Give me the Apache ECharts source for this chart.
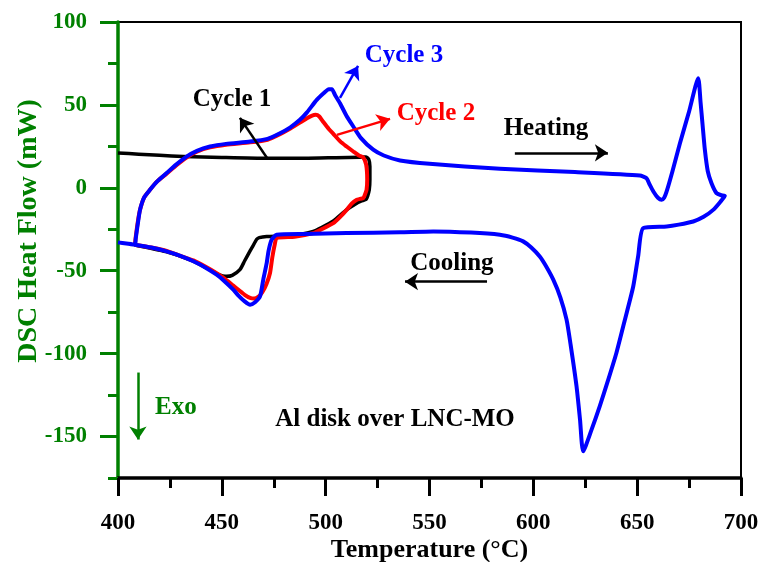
<!DOCTYPE html>
<html>
<head>
<meta charset="utf-8">
<script src="https://cdn.jsdelivr.net/npm/echarts@6/dist/echarts.min.js"></script>
<style>
html,body{margin:0;padding:0;background:#fff;}
#chart{width:763px;height:562px;}
</style>
</head>
<body>
<div id="chart"></div>
<script>
// ---- Data ----
const tempTicks = [400, 450, 500, 550, 600, 650, 700];
const tempMinorTicks = [425, 475, 525, 575, 625, 675];
const flowTicks = [-150, -100, -50, 0, 50, 100];
const flowMinorTicks = [-175, -125, -75, -25, 25, 75];

const cycle1T = [400, 410, 420, 431.5, 450, 471.6, 490, 505, 516.5, 519.5, 520.8, 521.3, 521.3, 521, 520.2, 519.5, 517, 514, 510, 503.7, 498, 494, 488, 480, 471.6, 468, 466.8, 465, 463.6, 461, 458.7, 455, 452.3, 448, 444.3, 436, 423, 408];
const cycle1V = [21, 20.3, 19.6, 18.9, 18.3, 17.8, 17.8, 18.2, 18.5, 18.6, 17, 12.8, 5, -1.2, -5, -7, -8, -10, -13.3, -20, -24, -26.3, -28, -29, -29.3, -30, -31, -35, -38, -44, -49.4, -52.8, -53.4, -52, -49.4, -44, -38.5, -34.5];

const cycle2T = [408.2, 408.6, 409.6, 410.6, 412.5, 415.4, 419, 423.4, 428, 433, 438, 444.3, 452, 463.6, 472, 478, 483, 487.6, 491, 493.5, 495.2, 496.8, 499, 501.5, 503.7, 507, 510.1, 513.3, 516, 518.1, 519.5, 520, 519.7, 518.8, 518.1, 516.5, 515, 512.5, 510.1, 507, 503.7, 498, 494, 485, 476.4, 475.5, 474.3, 473.2, 471.5, 469.5, 467.5, 465.5, 463.6, 461, 458, 455.5, 451, 447.5, 442, 436.3, 430, 423.4, 416, 408.2];
const cycle2V = [-33.5, -29, -20, -13.3, -6, -1.2, 4, 8.5, 13.5, 18.3, 21.8, 24.4, 26, 27.4, 29, 32.4, 35.8, 39.3, 42, 43.6, 44, 43.2, 39.5, 35.5, 32.5, 28, 24.9, 21.9, 19.5, 18.3, 14, 5, -1.2, -4.5, -6.2, -6.7, -7.2, -9.5, -13.3, -17.5, -21.3, -25, -27.3, -29.5, -30.3, -34, -42, -51.4, -58, -63, -65.8, -66.8, -66.4, -64.5, -61.5, -59, -54.5, -51.5, -47.5, -43.8, -41, -38, -36, -34.3];

const cycle3T = [400, 404, 408.2, 408.5, 409.5, 410.6, 412.5, 415.4, 419, 423.4, 428, 433, 438, 444.3, 452, 463.6, 472, 478, 483, 487.6, 491, 495.7, 499, 501.5, 503, 504.5, 506.9, 510, 513.3, 517, 522.9, 528, 535.8, 550, 583.9, 620, 651.3, 654.5, 656, 657.8, 660, 661.8, 663, 664.2, 667, 670.6, 675, 679.4, 680.5, 681.5, 682.6, 684, 685.8, 688.2, 690.5, 692.2, 690, 686.6, 682, 677, 670, 664.2, 652.9, 650.5, 648.1, 644, 640, 636, 632, 628, 624, 622.5, 620.8, 618, 616, 613, 609.6, 606, 603.1, 599, 595.1, 590, 583.9, 570, 551.8, 535.8, 510, 490, 476.4, 474, 472.5, 471.6, 470, 468.4, 466, 463.6, 461, 458, 455.5, 451, 447.5, 442, 436.3, 430, 423.4, 416, 408.2];
const cycle3V = [-32.9, -33.6, -34.3, -31, -22, -13.3, -6, -1.2, 4, 8.9, 14, 18.8, 22.3, 24.9, 26.5, 27.9, 29.5, 32.9, 36.5, 41, 45.5, 53, 57, 59.5, 59.5, 56, 51, 43.5, 37, 30, 23, 19.5, 16.5, 14.5, 11.5, 9.5, 7.4, 5.8, 2, -2.2, -6, -7.2, -6, -2.2, 10, 26.9, 46, 66.1, 52, 38, 22.9, 10, 2.8, -3.2, -4.5, -4.8, -8.5, -13.3, -17.5, -20.3, -22.2, -23.3, -24.3, -41, -59.5, -80, -99.6, -116, -131.7, -146, -158.9, -140, -119.7, -95, -79.5, -66, -55.4, -47, -41.4, -36, -32.3, -30, -28.3, -27, -26.3, -26.8, -27.3, -27.8, -28.3, -31.3, -38, -45.4, -55, -65.5, -69, -70.5, -68.5, -65, -61.4, -56, -52.4, -48, -44.3, -41, -38.3, -36, -34.3];

// ---- Annotation layout (data coordinates) ----
const FONT = '"Liberation Serif", "Times New Roman", serif';
const GREEN = '#008000';
const notes = [
  { text: 'Cycle 1', at: [454.9, 53], color: '#000000' },
  { text: 'Cycle 2', at: [553.1, 44.5], color: '#ff0000' },
  { text: 'Cycle 3', at: [537.7, 79.5], color: '#0000ff' },
  { text: 'Heating', at: [606.1, 35.8], color: '#000000' },
  { text: 'Cooling', at: [560.8, -45.5], color: '#000000' },
  { text: 'Exo', at: [427.9, -132.3], color: GREEN },
  { text: 'Al disk over LNC-MO', at: [533.4, -140], color: '#000000' }
];
const arrows = [
  { from: [471.7, 18.1], to: [458.7, 42.2], color: '#000000' },
  { from: [505.4, 31.9], to: [531, 41.6], color: '#ff0000' },
  { from: [506.9, 54.2], to: [515.6, 73.5], color: '#0000ff' },
  { from: [591.1, 21.1], to: [635.9, 21.1], color: '#000000' },
  { from: [577.7, -56.6], to: [538.2, -56.6], color: '#000000' },
  { from: [409.6, -111.4], to: [409.6, -151.8], color: GREEN }
];

const zip = (a, b) => a.map((x, i) => [x, b[i]]);

const chart = echarts.init(document.getElementById('chart'), null, { renderer: 'canvas' });

const baseX = { type: 'value', min: 400, max: 700, position: 'bottom', splitLine: { show: false } };
const baseY = { type: 'value', min: -175, max: 100, position: 'left', splitLine: { show: false } };

const option = {
  animation: false,
  backgroundColor: '#ffffff',
  grid: { left: 118, right: 22, top: 22, bottom: 84, outerBoundsMode: 'none', containLabel: false,
    show: true, borderColor: '#000', borderWidth: 2, backgroundColor: 'transparent' },
  xAxis: [
    Object.assign({}, baseX, {
      name: 'Temperature (°C)', nameLocation: 'middle', nameGap: 59, nameMoveOverlap: false,
      nameTextStyle: { fontFamily: FONT, fontWeight: 'bold', fontSize: 26, color: '#000' },
      axisLine: { show: true, onZero: false, lineStyle: { color: '#000', width: 3.5 } },
      axisTick: { show: true, customValues: tempTicks, length: 18, lineStyle: { color: '#000', width: 3 } },
      axisLabel: { customValues: tempTicks, margin: 34, fontFamily: FONT, fontWeight: 'bold', fontSize: 23, color: '#000' }
    }),
    Object.assign({}, baseX, {
      axisLine: { show: false, onZero: false },
      axisTick: { show: true, customValues: tempMinorTicks, length: 10, lineStyle: { color: '#000', width: 3 } },
      axisLabel: { show: false }
    })
  ],
  yAxis: [
    Object.assign({}, baseY, {
      name: 'DSC Heat Flow (mW)', nameLocation: 'middle', nameGap: 75, nameRotate: 90, nameMoveOverlap: false,
      nameTextStyle: { fontFamily: FONT, fontWeight: 'bold', fontSize: 28, color: GREEN, padding: [0, 0, 0, 38] },
      axisLine: { show: true, onZero: false, lineStyle: { color: GREEN, width: 3.5 } },
      axisTick: { show: true, customValues: flowTicks, length: 18, lineStyle: { color: GREEN, width: 3 } },
      axisLabel: { customValues: flowTicks, margin: 31, fontFamily: FONT, fontWeight: 'bold', fontSize: 23, color: GREEN }
    }),
    Object.assign({}, baseY, {
      axisLine: { show: false, onZero: false },
      axisTick: { show: true, customValues: flowMinorTicks, length: 10, lineStyle: { color: GREEN, width: 3 } },
      axisLabel: { show: false }
    })
  ],
  series: [
    { name: 'Cycle 1', type: 'line', data: zip(cycle1T, cycle1V), showSymbol: false, symbol: 'none', smooth: 0.2,
      lineStyle: { color: '#000000', width: 3.5, join: 'round' }, z: 2 },
    { name: 'Cycle 2', type: 'line', data: zip(cycle2T, cycle2V), showSymbol: false, symbol: 'none', smooth: 0.2,
      lineStyle: { color: '#ff0000', width: 4, join: 'round' }, z: 3 },
    { name: 'Cycle 3', type: 'line', data: zip(cycle3T, cycle3V), showSymbol: false, symbol: 'none', smooth: 0.2,
      lineStyle: { color: '#0000ff', width: 4, join: 'round' }, z: 4 },
    { name: 'arrows', type: 'line', data: [], z: 5,
      markLine: {
        silent: true, animation: false, symbol: ['none', 'arrow'], symbolSize: 13,
        label: { show: false },
        data: arrows.map(a => [
          { coord: a.from, lineStyle: { color: a.color, width: 2.5, type: 'solid' } },
          { coord: a.to }
        ])
      }
    }
  ]
};
chart.setOption(option);

const graphics = notes.map(n => {
  const p = chart.convertToPixel({ gridIndex: 0 }, n.at);
  return {
    type: 'text', x: p[0], y: p[1], z: 10,
    style: { text: n.text, fill: n.color, font: 'bold 25px ' + FONT, align: 'center', verticalAlign: 'middle' }
  };
});
chart.setOption({ graphic: graphics });
</script>
</body>
</html>
